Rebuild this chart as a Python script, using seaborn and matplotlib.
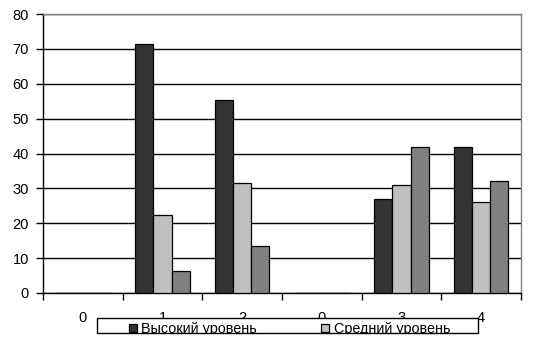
import matplotlib
matplotlib.use("Agg")
import matplotlib.pyplot as plt
import seaborn as sns
import pandas as pd
from matplotlib.patches import Rectangle
from matplotlib.ticker import FixedLocator, NullFormatter

# Group labels along the x axis (note that "0" appears twice)
groups = ["0", "1", "2", "0", "3", "4"]
series = ["Высокий уровень", "Средний уровень", "Низкий уровень"]
high = [0, 71.3, 55.3, 0, 26.9, 41.9]
medium = [0, 22.3, 31.5, 0, 30.9, 26.0]
low = [0, 6.3, 13.4, 0, 41.9, 32.0]

colors = ["#333333", "#C0C0C0", "#808080"]

rows = []
for i, g in enumerate(groups):
    for name, vals in zip(series, [high, medium, low]):
        rows.append({"slot": f"s{i}", "label": g, "series": name, "value": vals[i]})
df = pd.DataFrame(rows)

sns.set_style("white")
plt.rcParams["font.family"] = ["Liberation Sans", "DejaVu Sans"]
plt.rcParams["text.color"] = "black"
plt.rcParams["xtick.color"] = "black"
plt.rcParams["ytick.color"] = "black"

W, H = 534, 339
fig = plt.figure(figsize=(W / 100, H / 100), dpi=100)
ax = fig.add_axes([43 / W, 1 - 293 / H, (521 - 43) / W, (293 - 14) / H])

order = [f"s{i}" for i in range(len(groups))]
sns.barplot(data=df, x="slot", y="value", hue="series", order=order,
            hue_order=series, palette=colors, width=0.68, gap=0,
            edgecolor="black", linewidth=0.9, saturation=1, ax=ax,
            legend=True, zorder=3)

ax.set_xlim(-0.5, len(groups) - 0.5)
ax.set_ylim(0, 80)
ax.set_yticks(range(0, 81, 10))
ax.set_yticklabels([str(v) for v in range(0, 81, 10)], fontsize=10.5)
ax.grid(axis="y", color="black", linewidth=1, zorder=0)
ax.set_axisbelow(True)

# category separators as major ticks, labels centred on minor ticks
ax.xaxis.set_major_locator(FixedLocator([i - 0.5 for i in range(len(groups) + 1)]))
ax.xaxis.set_major_formatter(NullFormatter())
ax.xaxis.set_minor_locator(FixedLocator(list(range(len(groups)))))
ax.set_xticklabels(groups, minor=True, fontsize=10.5)
ax.tick_params(axis="x", which="major", bottom=True, direction="out",
               length=5, width=1, color="black")
ax.tick_params(axis="x", which="minor", bottom=True, length=0, pad=13)
ax.tick_params(axis="y", left=True, direction="out", length=5, width=1,
               color="black", pad=5)
ax.set_xlabel("")
ax.set_ylabel("")

for side in ["left", "bottom"]:
    ax.spines[side].set_color("black")
    ax.spines[side].set_linewidth(1)
for side in ["top", "right"]:
    ax.spines[side].set_color("#808080")
    ax.spines[side].set_linewidth(1)
    ax.spines[side].set_visible(True)

# legend frame: a narrow box that clips its own entries
frame = Rectangle((97 / W, 1 - 333 / H), (478 - 97) / W, (333 - 318) / H,
                  transform=fig.transFigure, facecolor="white",
                  edgecolor="black", linewidth=1, zorder=1)
fig.patches.append(frame)

# legend: two entries per row, row-major order
ax.get_legend().remove()
handles, labels = ax.get_legend_handles_labels()
idx = [0, 2, 1]
leg = fig.legend([handles[i] for i in idx], [labels[i] for i in idx], ncol=2,
                 loc="upper left", bbox_to_anchor=(129 / W, 1 - 322 / H),
                 frameon=False, fontsize=10.4, handlelength=0.55,
                 handleheight=0.55, handletextpad=0.3, borderpad=0,
                 borderaxespad=0, columnspacing=4.45, labelspacing=0.8)
leg.set_zorder(2)
for art in list(leg.get_texts()) + list(leg.legend_handles):
    art.set_clip_on(True)
    art.set_clip_path(frame)

fig.savefig("out.png", dpi=100)
